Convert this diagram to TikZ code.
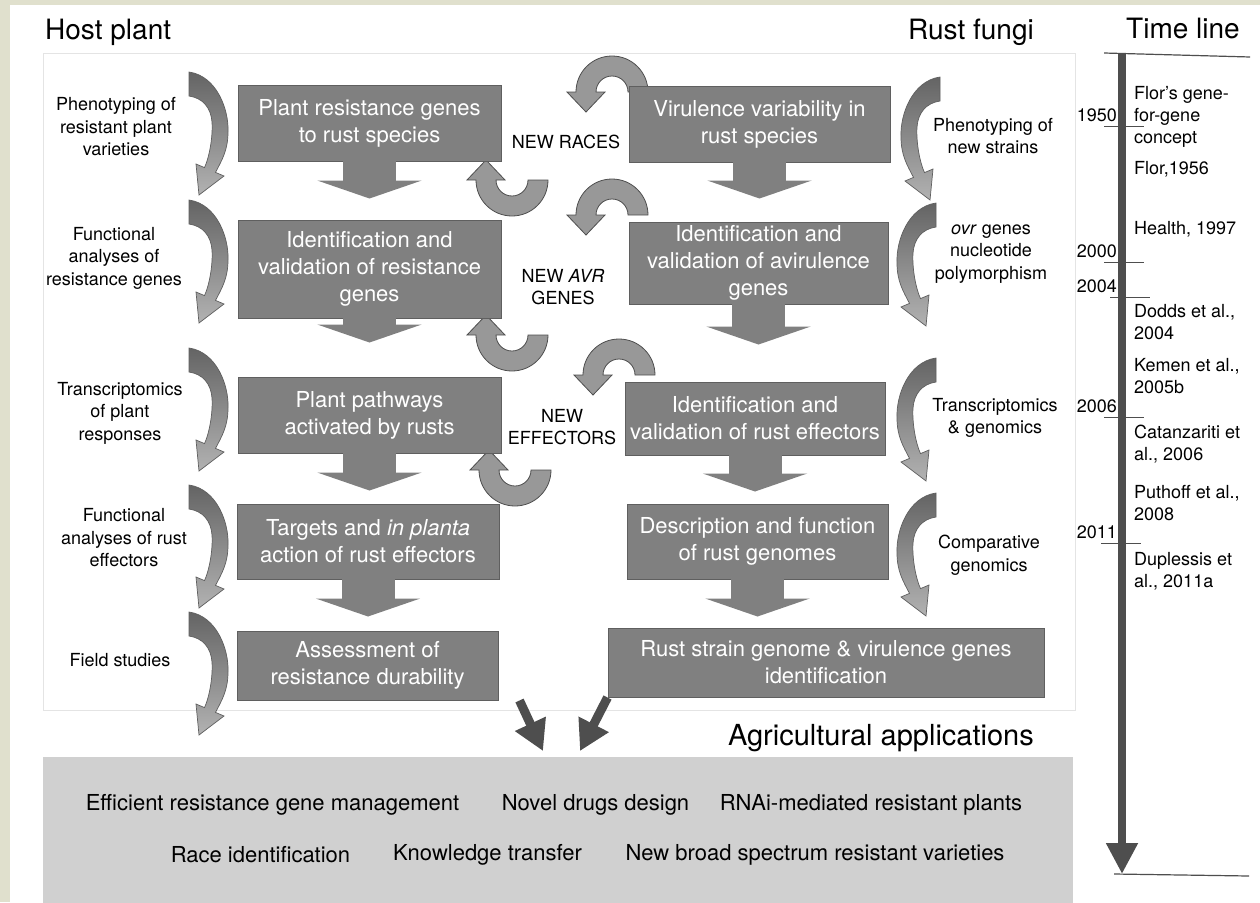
\documentclass[tikz,border=0pt]{standalone}
\usepackage{fontspec}
\setmainfont{TeX Gyre Heros}
\usetikzlibrary{arrows.meta}

\definecolor{pagebeige}{RGB}{224,224,205}
\definecolor{framegray}{RGB}{228,228,228}
\definecolor{boxgray}{RGB}{128,128,128}
\definecolor{boxedge}{RGB}{95,95,95}
\definecolor{bendtop}{RGB}{100,100,100}
\definecolor{bendbottom}{RGB}{178,178,178}
\definecolor{turngray}{RGB}{152,152,152}
\definecolor{darkarrow}{RGB}{78,78,78}
\definecolor{appgray}{RGB}{208,208,208}

\newcommand{\boxtextfont}{\fontsize{22}{27}\selectfont}
\newcommand{\sidetextfont}{\fontsize{18}{22.5}\selectfont}
\newcommand{\titletextfont}{\fontsize{28}{32}\selectfont}

\tikzset{
    bendarrow/.pic={
        \shadedraw[top color=bendtop, bottom color=bendbottom, draw=boxedge, line width=0.7pt]
            (0,0) .. controls (28,4) and (40,38) .. (39,60)
            .. controls (39,78) and (33,88) .. (26.5,100.4)
            -- (35,104) -- (10,123) -- (7,92) -- (15.5,95.6)
            .. controls (20,86) and (24,66) .. (23,50)
            .. controls (22,36) and (14,26) .. (0,24) -- cycle;
    },
    turnarrow/.pic={
        \draw[fill=turngray, draw=darkarrow, line width=0.8pt]
            (-16,0) -- (-7,0) -- (-26,-20) -- (-45,0) -- (-36,0)
            arc[start angle=180, end angle=0, radius=36] -- (16,0)
            arc[start angle=0, end angle=180, radius=16] -- cycle;
    }
}

\begin{document}
\begin{tikzpicture}[x=1pt, y=-1pt,
        stepbox/.style={draw=boxedge, line width=1pt, fill=boxgray, text=white, align=center, font=\boxtextfont, inner sep=0pt},
        sidelabel/.style={align=center, font=\sidetextfont, inner sep=0pt},
        appstext/.style={font=\boxtextfont, inner sep=0pt},
        yearlabel/.style={anchor=south east, font=\sidetextfont, inner xsep=1pt, inner ysep=4pt},
        timeref/.style={anchor=west, align=left, font=\fontsize{18}{22}\selectfont, inner sep=0pt},
        blockdown/.style={draw=boxgray, line width=53pt, shorten <=-1.5pt, -{Triangle[width=104pt, length=18pt]}},
        darkdown/.style={draw=darkarrow, line width=9pt, -{Triangle[width=32pt, length=30pt]}},
        timeline/.style={draw=darkarrow, line width=8pt, -{Triangle[width=30pt, length=31pt]}}]

    % Page and frame
    \useasboundingbox (0,0) rectangle (1260,902);
    \fill[pagebeige] (0,0) rectangle (1260,902);
    \fill[white] (10,5) rectangle (1260,902);
    \draw[framegray, line width=1pt] (43,53) rectangle (1075,710);

    % Titles
    \node[anchor=west, font=\titletextfont, inner sep=0pt] (hosttitle) at (45,32) {Host plant};
    \node[font=\titletextfont, inner sep=0pt] (rusttitle) at (971,32) {Rust fungi};
    \node[font=\titletextfont, inner sep=0pt] (timetitle) at (1183,29) {Time line};

    % Agricultural applications
    \node[fill=appgray, minimum width=1030pt, minimum height=146pt, inner sep=0pt] (apps) at (558,830) {};
    \node[anchor=east, font=\fontsize{29}{33}\selectfont, inner sep=0pt] (appstitle) at (1034,738) {Agricultural applications};
    \node[appstext] (effmgmt) at (272.5,805) {Efficient resistance gene management};
    \node[appstext] (drugs) at (595.5,805) {Novel drugs design};
    \node[appstext] (rnai) at (871,805) {RNAi-mediated resistant plants};
    \node[appstext] (raceid) at (260.5,855) {Race identification};
    \node[appstext] (knowtr) at (487.5,855) {Knowledge transfer};
    \node[appstext] (broadspec) at (815,855) {New broad spectrum resistant varieties};

    % Turning arrows between the columns
    \foreach \x/\y in {512/180, 512/335, 515/470} {
        \pic at (\x,\y) {turnarrow};
    }
    \foreach \x/\y in {612/92, 612/215, 619/375} {
        \pic[yscale=-1] at (\x,\y) {turnarrow};
    }

    % Method arrows
    \foreach \y in {72,200,348,485,612} {
        \pic at (189,\y) {bendarrow};
    }
    \foreach \x/\y in {940/77, 936/203, 936/358, 936/493} {
        \pic[xscale=-1] at (\x,\y) {bendarrow};
    }

    % Host plant steps
    \node[stepbox, minimum width=263pt, minimum height=76pt] (plant1) at (369.5,123) {Plant resistance genes\\to rust species};
    \node[stepbox, minimum width=263pt, minimum height=98pt] (plant2) at (369.5,269) {Identification and\\validation of resistance\\genes};
    \node[stepbox, minimum width=263pt, minimum height=76pt] (plant3) at (369.5,415) {Plant pathways\\activated by rusts};
    \node[stepbox, minimum width=262pt, minimum height=75pt] (plant4) at (368,541.5) {Targets and \textit{in planta}\\action of rust effectors};
    \node[stepbox, minimum width=261pt, minimum height=69pt] (plant5) at (367.5,665.5) {Assessment of\\resistance durability};

    % Rust fungi steps
    \node[stepbox, minimum width=261pt, minimum height=76pt] (rust1) at (759.5,124) {Virulence variability in\\rust species};
    \node[stepbox, minimum width=259pt, minimum height=82pt] (rust2) at (758.5,263) {Identification and\\validation of avirulence\\genes};
    \node[stepbox, minimum width=260pt, minimum height=73pt] (rust3) at (755,418.5) {Identification and\\validation of rust effectors};
    \node[stepbox, minimum width=261pt, minimum height=75pt] (rust4) at (757.5,541.5) {Description and function\\of rust genomes};
    \node[stepbox, minimum width=436pt, minimum height=69pt] (rust5) at (826,662.5) {Rust strain genome \& virulence genes\\identification};

    % Block arrows
    \foreach \a/\b/\s in {plant1/plant2/21pt, plant2/plant3/34pt, plant3/plant4/13pt, plant4/plant5/14pt, rust1/rust2/23pt, rust2/rust3/37pt, rust3/rust4/12pt, rust4/rust5/11pt} {
        \draw[blockdown, shorten >=\s] (\a.south) -- (\a.south |- \b.north);
    }

    % Method labels
    \foreach \x/\y/\txt/\nm in {116/127/{Phenotyping of\\resistant plant\\varieties}/plantlab1,
            114/258/{Functional\\analyses of\\resistance genes}/plantlab2,
            120/413/{Transcriptomics\\of plant\\responses}/plantlab3,
            124/538/{Functional\\analyses of rust\\effectors}/plantlab4,
            120/660/{Field studies}/plantlab5,
            993/136/{Phenotyping of\\new strains}/rustlab1,
            991/254/{\textit{ovr} genes\\nucleotide\\polymorphism}/rustlab2,
            995/418/{Transcriptomics\\\& genomics}/rustlab3,
            989/555/{Comparative\\genomics}/rustlab4} {
        \node[sidelabel] (\nm) at (\x,\y) {\txt};
    }

    % Exchanges between host and rust
    \node[sidelabel] (newraces) at (566,142) {NEW RACES};
    \node[sidelabel] (newavr) at (563,287) {NEW \textit{AVR}\\GENES};
    \node[sidelabel] (neweff) at (562,427) {NEW\\EFFECTORS};

    % Towards applications
    \coordinate (appin1) at (543,751);
    \coordinate (appin2) at (580,751);
    \draw[darkdown] ([xshift=21pt]plant5.south east) -- (appin1);
    \draw[darkdown] (rust5.south west) -- (appin2);

    % Time line
    \coordinate (tltop) at (1122,53);
    \coordinate (tlend) at (1122,874);
    \draw[timeline] (tltop) -- (tlend);
    \draw[line width=1.2pt, darkarrow] (1104,53) -- (1250,57);
    \draw[line width=1.2pt, darkarrow] (1114,874) -- (1249,876);

    \foreach \y/\yr/\x in {126/1950/1104, 262/2000/1104, 297/2004/1110, 417/2006/1104, 543/2011/1101} {
        \draw[line width=1pt, darkarrow] (\x,\y) -- ++(40,0);
        \node[yearlabel] (year\yr) at (1118,\y) {\yr};
    }

    \foreach \y/\txt/\nm in {117/{Flor's gene-\\for-gene\\concept}/flor,
            169/{Flor,1956}/flor56,
            229/{Health, 1997}/health,
            322.5/{Dodds et al.,\\2004}/dodds,
            376/{Kemen et al.,\\2005b}/kemen,
            444/{Catanzariti et\\al., 2006}/catanz,
            503/{Puthoff et al.,\\2008}/puthoff,
            571/{Duplessis et\\al., 2011a}/duples} {
        \node[timeref] (\nm) at (1134,\y) {\txt};
    }
\end{tikzpicture}
\end{document}
